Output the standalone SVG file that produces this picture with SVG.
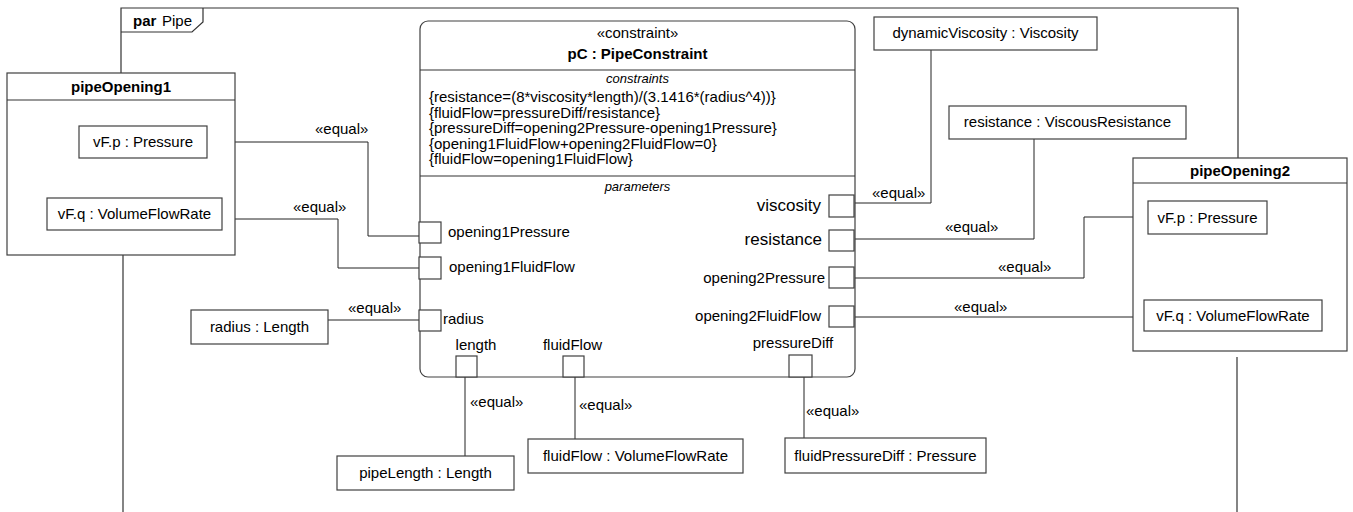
<svg xmlns="http://www.w3.org/2000/svg" width="1353" height="512" viewBox="0 0 1353 512">
<style>
text{font-family:"Liberation Sans",Arial,sans-serif;font-size:15px;fill:#000}
.b{font-weight:bold}
.i{font-style:italic;font-size:13px}
.c{text-anchor:middle}
.e{text-anchor:end}
.big{font-size:17px}
.box{fill:#fff;stroke:#404040;stroke-width:1.2}
.port{fill:#fff;stroke:#404040;stroke-width:1.2}
.ln{fill:none;stroke:#222;stroke-width:1}
.fr{fill:none;stroke:#333;stroke-width:1.2}
</style>
<rect width="1353" height="512" fill="#fff"/>
<g id="frame">
<path class="fr" d="M121,73 V8 H1238 V158"/>
<path class="fr" d="M123,255 V512"/>
<path class="fr" d="M1237,357 V512"/>
<path class="fr" d="M121,32 H192 L203,22 V8"/>
<text x="133" y="26" class="b">par</text>
<text x="162" y="26">Pipe</text>
</g>
<g id="connectors">
<path class="ln" d="M207,142 H368 V236 H419"/>
<text x="315" y="134">«equal»</text>
<path class="ln" d="M222,219 H338 V268 H419"/>
<text x="293" y="212">«equal»</text>
<path class="ln" d="M328,320 H419"/>
<text x="348" y="313">«equal»</text>
<path class="ln" d="M854,203 H931 V50"/>
<text x="872" y="198">«equal»</text>
<path class="ln" d="M854,239 H1034 V139"/>
<text x="945" y="232">«equal»</text>
<path class="ln" d="M854,278 H1084 V217 H1148"/>
<text x="998" y="272">«equal»</text>
<path class="ln" d="M854,317 H1144"/>
<text x="954" y="312">«equal»</text>
<path class="ln" d="M465,377 V456"/>
<text x="470" y="407">«equal»</text>
<path class="ln" d="M575,377 V439"/>
<text x="579" y="410">«equal»</text>
<path class="ln" d="M804,376 V438"/>
<text x="806" y="416">«equal»</text>
</g>
<g id="pipeOpening1">
<rect class="box" x="7" y="73" width="228" height="182"/>
<line class="fr" x1="7" y1="100" x2="235" y2="100"/>
<text x="121" y="92" class="b c">pipeOpening1</text>
<g id="pipeOpening1-vFp">
<rect class="box" x="79" y="126" width="128" height="32"/>
<text x="143" y="147" class="c">vF.p : Pressure</text>
</g>
<g id="pipeOpening1-vFq">
<rect class="box" x="47" y="198" width="175" height="32"/>
<text x="134.5" y="219" class="c">vF.q : VolumeFlowRate</text>
</g>
</g>
<g id="pipeOpening2">
<rect class="box" x="1133" y="158" width="214" height="193"/>
<line class="fr" x1="1133" y1="183" x2="1347" y2="183"/>
<text x="1240" y="176" class="b c">pipeOpening2</text>
<g id="pipeOpening2-vFp">
<rect class="box" x="1148" y="201" width="119" height="33"/>
<text x="1207.5" y="223" class="c">vF.p : Pressure</text>
</g>
<g id="pipeOpening2-vFq">
<rect class="box" x="1144" y="300" width="178" height="31"/>
<text x="1233" y="321" class="c">vF.q : VolumeFlowRate</text>
</g>
</g>
<g id="pC">
<rect class="box" x="420" y="21" width="435" height="356" rx="8" ry="8"/>
<line class="fr" x1="420" y1="70" x2="855" y2="70"/>
<line class="fr" x1="420" y1="176" x2="855" y2="176"/>
<text x="637.5" y="38" class="c">«constraint»</text>
<text x="637.5" y="59" class="b c">pC : PipeConstraint</text>
<text x="637.5" y="83" class="i c">constraints</text>
<text x="429" y="102">{resistance=(8*viscosity*length)/(3.1416*(radius^4))}</text>
<text x="429" y="118">{fluidFlow=pressureDiff/resistance}</text>
<text x="429" y="133">{pressureDiff=opening2Pressure-opening1Pressure}</text>
<text x="429" y="149">{opening1FluidFlow+opening2FluidFlow=0}</text>
<text x="429" y="164">{fluidFlow=opening1FluidFlow}</text>
<text x="637.5" y="191" class="i c">parameters</text>
<rect class="port" x="419" y="222" width="22" height="21"/>
<text x="448" y="237">opening1Pressure</text>
<rect class="port" x="419" y="257" width="22" height="22"/>
<text x="449" y="272">opening1FluidFlow</text>
<rect class="port" x="419" y="310" width="22" height="21"/>
<text x="443" y="324">radius</text>
<rect class="port" x="829" y="195" width="25" height="22"/>
<text x="821" y="211" class="e big">viscosity</text>
<rect class="port" x="829" y="230" width="25" height="21"/>
<text x="822" y="245" class="e big">resistance</text>
<rect class="port" x="829" y="267" width="25" height="21"/>
<text x="825" y="283" class="e">opening2Pressure</text>
<rect class="port" x="829" y="306" width="25" height="21"/>
<text x="821" y="321" class="e">opening2FluidFlow</text>
<rect class="port" x="456" y="356" width="21" height="21"/>
<text x="476" y="350" class="c">length</text>
<rect class="port" x="563" y="356" width="21" height="21"/>
<text x="572.5" y="350" class="c">fluidFlow</text>
<rect class="port" x="789" y="355" width="23" height="22"/>
<text x="793" y="348" class="c">pressureDiff</text>
</g>
<g id="radius">
<rect class="box" x="191" y="310" width="137" height="34"/>
<text x="259.5" y="332" class="c">radius : Length</text>
</g>
<g id="dynamicViscosity">
<rect class="box" x="874" y="17" width="223" height="33"/>
<text x="985.5" y="38" class="c">dynamicViscosity : Viscosity</text>
</g>
<g id="resistance">
<rect class="box" x="949" y="106" width="237" height="33"/>
<text x="1067.5" y="127" class="c">resistance : ViscousResistance</text>
</g>
<g id="pipeLength">
<rect class="box" x="337" y="456" width="177" height="34"/>
<text x="425.5" y="478" class="c">pipeLength : Length</text>
</g>
<g id="fluidFlow">
<rect class="box" x="528" y="439" width="215" height="34"/>
<text x="635.5" y="461" class="c">fluidFlow : VolumeFlowRate</text>
</g>
<g id="fluidPressureDiff">
<rect class="box" x="785" y="438" width="201" height="35"/>
<text x="885.5" y="461" class="c">fluidPressureDiff : Pressure</text>
</g>
</svg>
